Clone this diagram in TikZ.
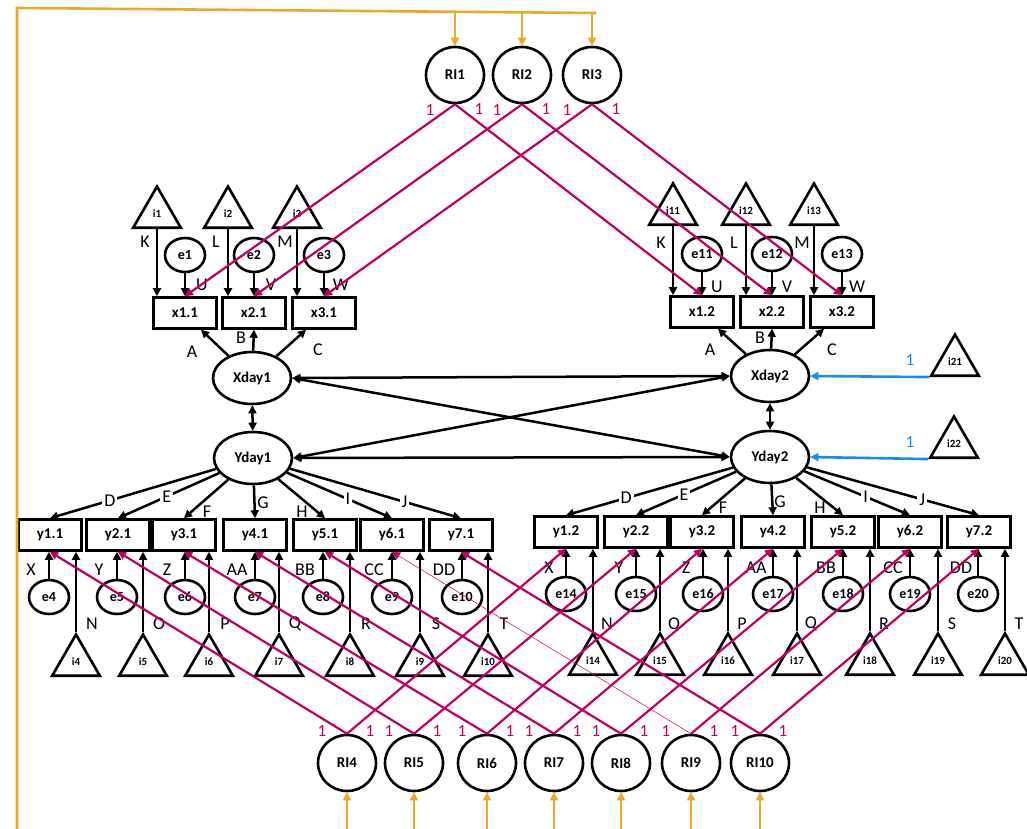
\documentclass[tikz,border=0pt]{standalone}
\usepackage{fontspec}
\setmainfont{Carlito}
\usetikzlibrary{arrows.meta,shapes.geometric}

\definecolor{rimag}{RGB}{192,0,96}
\definecolor{riorange}{RGB}{236,168,40}
\definecolor{fixblue}{RGB}{20,140,240}

\begin{document}
\begin{tikzpicture}[x=1pt,y=-1pt,
    every node/.style={inner sep=0pt},
    lat/.style={ellipse,draw,line width=2.6pt,font=\bfseries\fontsize{15}{17}\selectfont},
    rinode/.style={lat,minimum width=58,minimum height=56},
    fac/.style={lat,minimum width=78,minimum height=52},
    err/.style={lat,minimum width=40,minimum height=34,font=\bfseries\fontsize{14}{16}\selectfont},
    obs/.style={rectangle,draw,line width=2.6pt,minimum width=63,minimum height=31,font=\bfseries\fontsize{15}{17}\selectfont},
    icpt/.style={regular polygon,regular polygon sides=3,draw,line width=2.6pt,minimum size=55,font=\bfseries\fontsize{11}{13}\selectfont},
    arr/.style={-{Triangle[length=8pt,width=8pt]},line width=2.5pt},
    covar/.style={{Triangle[length=8pt,width=8pt]}-{Triangle[length=8pt,width=8pt]},line width=2.5pt},
    ripath/.style={-{Triangle[length=8pt,width=8pt]},line width=2.2pt,rimag},
    orangeline/.style={line width=2.6pt,riorange},
    orangetip/.style={-{Triangle[length=8pt,width=8pt]},line width=2.6pt,riorange},
    bluetip/.style={-{Triangle[length=8pt,width=8pt]},line width=2.6pt,fixblue},
    lab/.style={font=\fontsize{18}{20}\selectfont},
    onlab/.style={lab,fill=white,inner sep=2pt},
    onelab/.style={font=\fontsize{17}{19}\selectfont,text=rimag},
    bluelab/.style={font=\fontsize{17}{19}\selectfont,text=fixblue}
]
\useasboundingbox (0,0) rectangle (1027,829);

% random intercepts
\foreach \i/\xx in {1/455,2/522,3/592}
    \node[rinode] (RI\i) at (\xx,75) {RI\i};
\foreach \i/\xx in {4/347,5/414,6/487,7/554,8/621,9/691,10/760}
    \node[rinode] (RI\i) at (\xx,763) {RI\i};

% factors
\node[fac] (Xday1) at (252,378) {Xday1};
\node[fac] (Yday1) at (253,458) {Yday1};
\node[fac] (Xday2) at (770,376) {Xday2};
\node[fac] (Yday2) at (770,457) {Yday2};

% x indicators, day 1
\foreach \k/\bx/\ix/\ll/\ul in {1/185/157/K/U,2/254/228/L/V,3/324/297/M/W}{
    \node[obs] (x\k1) at (\bx,313) {x\k.1};
    \node[err] (e\k) at (\bx,255) {e\k};
    \node[icpt] (i\k) at (\ix,214) {i\k};
    \draw[arr] (e\k.south) -- (e\k.south |- x\k1.north);
    \draw[arr] (i\k.side 2) -- (i\k.side 2 |- x\k1.north);
    \node[lab] at (\ix-12,242) {\ll};
    \node[lab] at (\bx+17,285) {\ul};
}
% x indicators, day 2
\foreach \k/\bx/\ix/\ll/\ul in {1/702/673/K/U,2/772/746/L/V,3/842/814/M/W}{
    \node[obs] (x\k2) at (\bx,312) {x\k.2};
    \node[err] (e1\k) at (\bx,254) {e1\k};
    \node[icpt] (i1\k) at (\ix,211) {i1\k};
    \draw[arr] (e1\k.south) -- (e1\k.south |- x\k2.north);
    \draw[arr] (i1\k.side 2) -- (i1\k.side 2 |- x\k2.north);
    \node[lab] at (\ix-12,243) {\ll};
    \node[lab] at (\bx+15,287) {\ul};
}

% x loadings
\draw[arr] (Xday1) -- ([xshift=16pt]x11.south);
\draw[arr] (Xday1) -- (x21.south);
\draw[arr] (Xday1) -- ([xshift=-18pt]x31.south);
\node[lab] at (192,352) {A};
\node[lab] at (241,338) {B};
\node[lab] at (318,350) {C};
\draw[arr] (Xday2) -- ([xshift=16pt]x12.south);
\draw[arr] (Xday2) -- (x22.south);
\draw[arr] (Xday2) -- ([xshift=-18pt]x32.south);
\node[lab] at (710,350) {A};
\node[lab] at (760,338) {B};
\node[lab] at (832,350) {C};

% y indicators, day 1
\foreach \k/\bx/\ex/\ix/\el/\il in {1/50/49/76/X/N,2/118/117/143/Y/O,3/184/185/209/Z/P,
        4/255/255/279/AA/Q,5/325/323/350/BB/R,6/392/392/420/CC/S,7/461/462/488/DD/T}{
    \pgfmathtruncatemacro\e{\k+3}
    \node[obs] (y\k1) at (\bx,535) {y\k.1};
    \node[err] (e\e) at (\ex,597) {e\e};
    \node[icpt] (i\e) at (\ix,662) {i\e};
    \draw[arr] (e\e.north) -- (e\e.north |- y\k1.south);
    \draw[arr] (i\e.corner 1) -- (i\e.corner 1 |- y\k1.south);
    \node[lab] at (\ex-18,570) {\el};
    \node[lab] at (\ix+16,624) {\il};
}
% y indicators, day 2
\foreach \k/\bx/\ex/\ix/\el/\il in {1/566/566/593/X/N,2/636/636/660/Y/O,3/702/703/728/Z/P,
        4/773/773/797/AA/Q,5/843/843/870/BB/R,6/910/910/938/CC/S,7/979/978/1005/DD/T}{
    \pgfmathtruncatemacro\e{\k+13}
    \node[obs] (y\k2) at (\bx,532) {y\k.2};
    \node[err] (e\e) at (\ex,594) {e\e};
    \node[icpt] (i\e) at (\ix,661) {i\e};
    \draw[arr] (e\e.north) -- (e\e.north |- y\k2.south);
    \draw[arr] (i\e.corner 1) -- (i\e.corner 1 |- y\k2.south);
    \node[lab] at (\ex-17,568) {\el};
    \node[lab] at (\ix+14,624) {\il};
}

% y loadings
\foreach \d in {1,2}{
    \draw[arr] (Yday\d) -- (y1\d.north) node[onlab,pos=0.64] {D};
    \draw[arr] (Yday\d) -- (y2\d.north) node[onlab,pos=0.52] {E};
    \draw[arr] (Yday\d) -- (y3\d.north);
    \draw[arr] (Yday\d) -- (y4\d.north);
    \draw[arr] (Yday\d) -- (y5\d.north);
    \draw[arr] (Yday\d) -- (y6\d.north) node[onlab,pos=0.58] {I};
    \draw[arr] (Yday\d) -- (y7\d.north) node[onlab,pos=0.67] {J};
}
\node[lab] at (207,512) {F};
\node[lab] at (263,503) {G};
\node[lab] at (302,512) {H};
\node[lab] at (723,508) {F};
\node[lab] at (780,502) {G};
\node[lab] at (820,508) {H};

% factor covariances
\draw[covar] (Xday1) -- (Yday1);
\draw[covar] (Xday2) -- (Yday2);
\draw[covar] (Xday1.east) -- (Xday2.west);
\draw[covar] (Yday1.east) -- (Yday2.west);
\draw[covar] (Xday1.east) -- (Yday2.west);
\draw[covar] (Yday1.east) -- (Xday2.west);

% factor means
\node[icpt] (i21) at (955,362) {i21};
\node[icpt] (i22) at (954,444) {i22};
\draw[bluetip] (i21.corner 2) -- (Xday2.east);
\draw[bluetip] (i22.corner 2) -- (Yday2.east);
\node[bluelab] at (910,360) {1};
\node[bluelab] at (910,442) {1};

% random intercept loadings
\foreach \k in {1,2,3}{
    \draw[ripath] (RI\k.south) -- (x\k1.north);
    \draw[ripath] (RI\k.south) -- (x\k2.north);
    \node[onelab] at ([shift={(-25,6)}]RI\k.south) {1};
    \node[onelab] at ([shift={(24,5)}]RI\k.south) {1};
}
\foreach \k/\lw in {1/2.2pt,2/2.2pt,3/2.2pt,4/2.2pt,5/2.2pt,6/0.5pt,7/2.2pt}{
    \pgfmathtruncatemacro\r{\k+3}
    \draw[ripath,line width=\lw] (RI\r.north) -- (y\k1.south);
    \draw[ripath] (RI\r.north) -- (y\k2.south);
    \node[onelab] at ([shift={(-25,-3)}]RI\r.north) {1};
    \node[onelab] at ([shift={(23,-3)}]RI\r.north) {1};
}

% orange frame
\coordinate (otl) at (17,8);
\coordinate (otr) at (596,13);
\coordinate (obl) at (17,829);
\draw[orangeline] (obl) -- (otl) -- (otr);
\foreach \k in {1,2,3}
    \draw[orangetip] (RI\k.north |- otr) -- (RI\k.north);
\foreach \k in {4,...,10}
    \draw[orangetip] (RI\k.south |- obl) -- (RI\k.south);
\end{tikzpicture}
\end{document}
